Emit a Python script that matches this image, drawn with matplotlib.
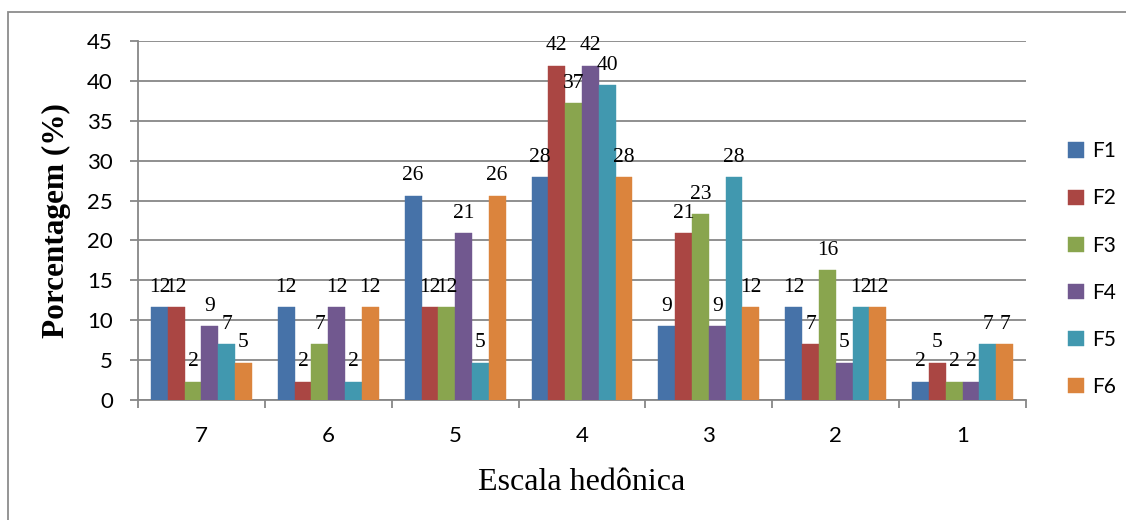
import matplotlib
matplotlib.use("Agg")
import matplotlib.pyplot as plt
from matplotlib.patches import Rectangle
import numpy as np

# Hedonic scale categories (7 = best, 1 = worst)
categories = ["7", "6", "5", "4", "3", "2", "1"]
series_names = ["F1", "F2", "F3", "F4", "F5", "F6"]

# Percentage of panelists per hedonic score, for each formulation
f1 = [11.6, 11.6, 25.6, 27.9, 9.3, 11.6, 2.3]
f2 = [11.6, 2.3, 11.6, 41.9, 20.9, 7.0, 4.7]
f3 = [2.3, 7.0, 11.6, 37.2, 23.3, 16.3, 2.3]
f4 = [9.3, 11.6, 20.9, 41.9, 9.3, 4.7, 2.3]
f5 = [7.0, 2.3, 4.7, 39.5, 27.9, 11.6, 7.0]
f6 = [4.7, 11.6, 25.6, 27.9, 11.6, 11.6, 7.0]

y_ticks = [0, 5, 10, 15, 20, 25, 30, 35, 40, 45]

colors = ["#4672A8", "#AA4643", "#89A54E", "#71588F", "#4198AF", "#DB843D"]
series = [f1, f2, f3, f4, f5, f6]

fig = plt.figure(figsize=(11.26, 5.2), dpi=100)
ax = fig.add_axes([138 / 1126, 1 - 400 / 520, (1026 - 138) / 1126, (400 - 41) / 520])

grid_col = "#878787"
x = np.arange(len(categories))
w = 0.1325
bars_handles = []
for j, (vals, col, name) in enumerate(zip(series, colors, series_names)):
    pos = x + (j - 2.5) * w
    bars = ax.bar(pos, vals, width=w, color=col, edgecolor=col, linewidth=0.3,
                  label=name, zorder=3)
    bars_handles.append(bars)
    for px, v in zip(pos, vals):
        ax.annotate(f"{v:.0f}", xy=(px, v), xytext=(0, 11), textcoords="offset points",
                    ha="center", va="baseline", fontsize=15.5,
                    family="Liberation Serif", color="black", zorder=5)

ax.set_xlim(-0.5, len(categories) - 0.5)
ax.set_ylim(0, 45)
ax.set_yticks(y_ticks)
ax.set_yticklabels([str(t) for t in y_ticks], family="Lato", fontsize=16)
ax.yaxis.grid(True, color=grid_col, linewidth=1.3, zorder=0)
ax.set_axisbelow(True)

ax.set_xticks(x)
ax.set_xticklabels(categories, family="Lato", fontsize=16)
ax.set_xticks(np.arange(-0.5, len(categories)), minor=True)
ax.tick_params(axis="x", which="major", length=0, pad=19)
ax.tick_params(axis="x", which="minor", length=6, width=1.3, color=grid_col, direction="out")
ax.tick_params(axis="y", which="major", length=6, width=1.3, color=grid_col, direction="out", pad=12)

for side in ["top", "right"]:
    ax.spines[side].set_visible(False)
for side in ["left", "bottom"]:
    ax.spines[side].set_color(grid_col)
    ax.spines[side].set_linewidth(1.3)

ax.set_ylabel("Porcentagem (%)", family="Liberation Serif", fontweight="bold", fontsize=22.5)
ax.yaxis.set_label_coords(-0.075, 0.5)
ax.set_xlabel("Escala hedônica", family="Liberation Serif", fontsize=23)
ax.xaxis.set_label_coords(0.5, -0.19)

leg = fig.legend(handles=bars_handles, labels=series_names, loc="upper left",
                 bbox_to_anchor=(1060 / 1126, 1 - 133 / 520), frameon=False,
                 prop={"family": "Lato", "size": 15}, handlelength=0.75, handleheight=0.75,
                 handletextpad=0.4, labelspacing=1.3, borderaxespad=0)

# Outer chart frame
fig.patches.append(Rectangle((8 / 1126, -0.2), 1.5, 1.2 - 11.5 / 520, transform=fig.transFigure,
                             fill=False, edgecolor="#8c8c8c", linewidth=1.3))

fig.savefig("out.png", dpi=100)
